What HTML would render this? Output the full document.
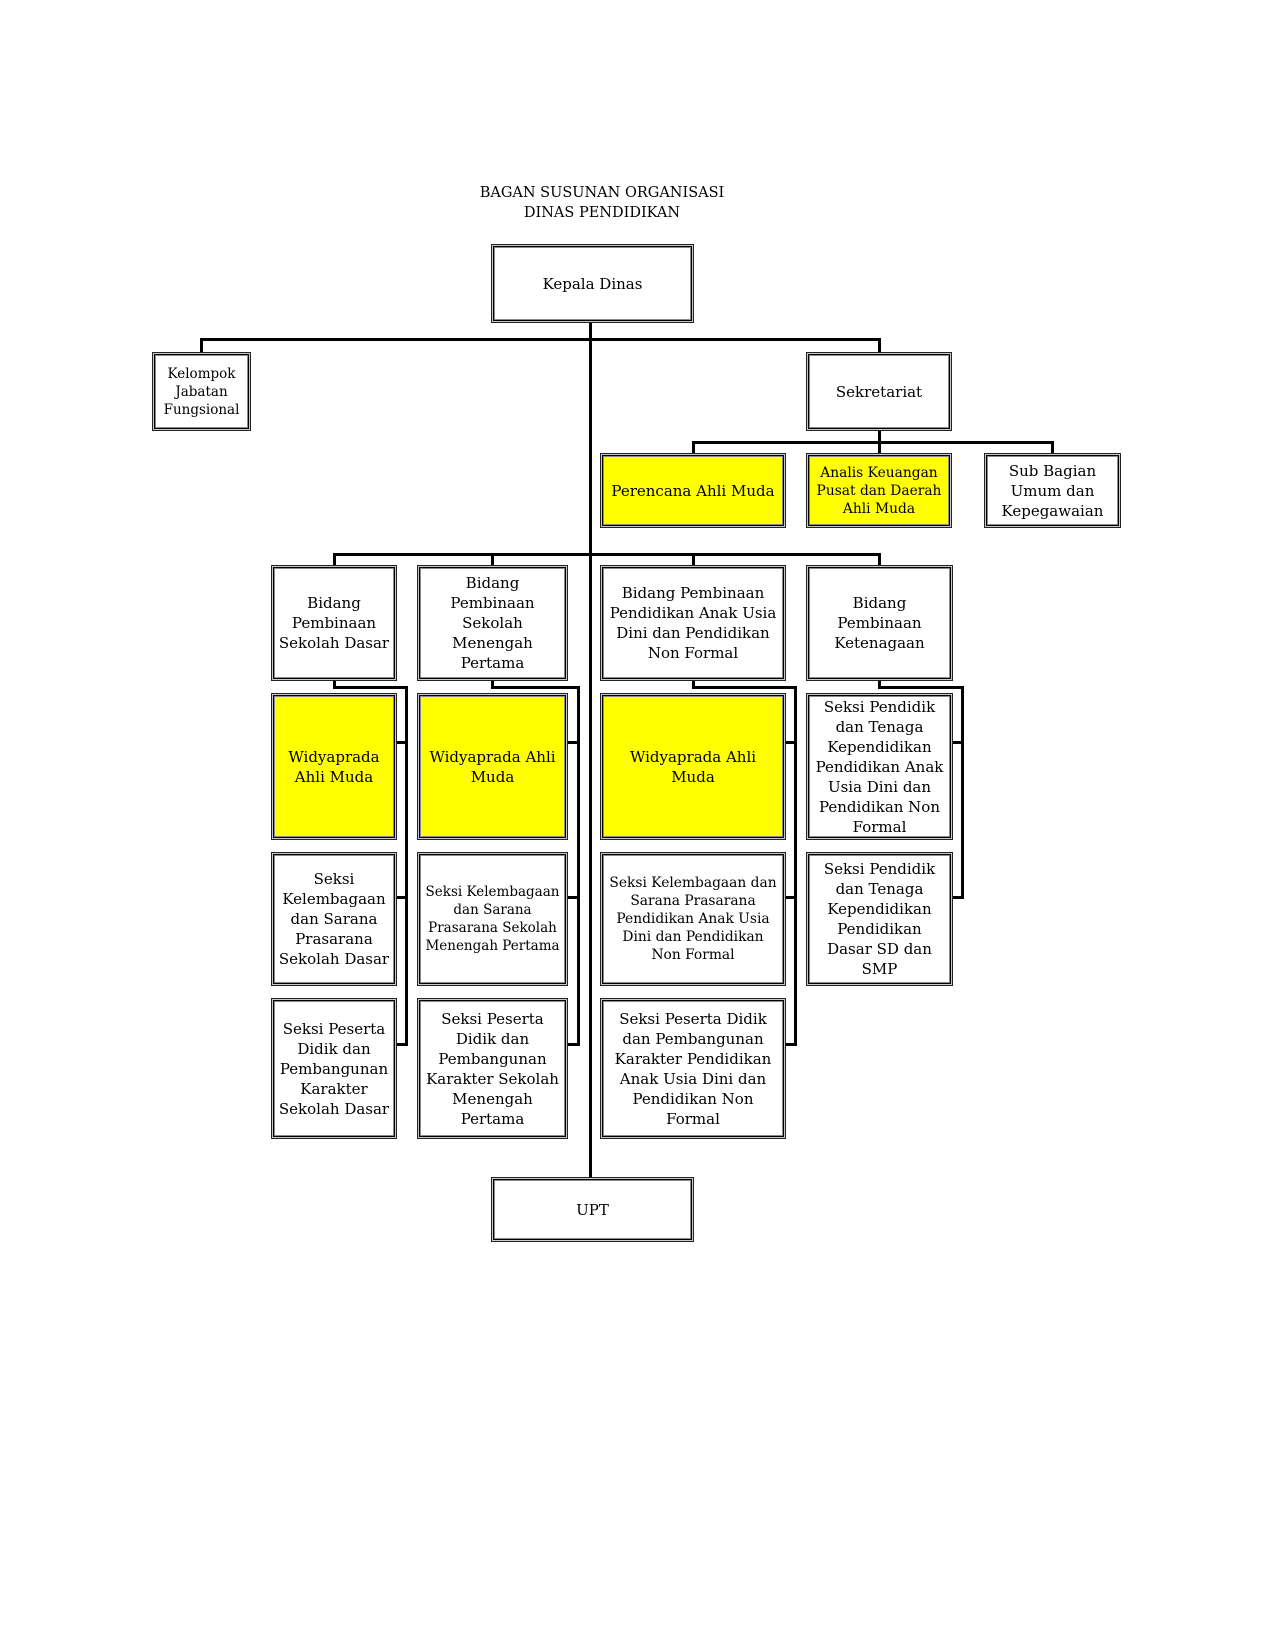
<!DOCTYPE html>
<html>
<head>
<meta charset="utf-8">
<style>
  html, body { margin:0; padding:0; }
  body { width:1275px; height:1650px; position:relative; background:#fff; overflow:hidden; }
  .b {
    position:absolute; box-sizing:border-box;
    border:1px solid #222;
    box-shadow: inset 0 0 0 1px #c8c8c8, inset 0 0 0 2px #000, inset 0 0 0 3px #8a8a8a;
    display:flex; align-items:center; justify-content:center; text-align:center;
    font-family:"DejaVu Serif","Liberation Serif",serif;
    font-size:15px; line-height:20px; color:#000; background:#fff;
    white-space:nowrap;
  }
  .y { background:#ffff00; }
  .s { font-size:13.8px; line-height:18px; }
  .l { position:absolute; background:#000; }
  .title {
    position:absolute; left:402px; top:183px; width:400px; text-align:center;
    font-family:"DejaVu Serif","Liberation Serif",serif; font-size:14.5px; line-height:20px; color:#000;
  }
</style>
</head>
<body>

<div class="title">BAGAN SUSUNAN ORGANISASI<br>DINAS PENDIDIKAN</div>

<!-- connectors -->
<div class="l" style="left:589px;top:323px;width:3px;height:854px;"></div>
<div class="l" style="left:200px;top:338px;width:681px;height:3px;"></div>
<div class="l" style="left:200px;top:338px;width:3px;height:14px;"></div>
<div class="l" style="left:878px;top:338px;width:3px;height:14px;"></div>

<div class="l" style="left:878px;top:431px;width:3px;height:22px;"></div>
<div class="l" style="left:692px;top:441px;width:362px;height:3px;"></div>
<div class="l" style="left:692px;top:441px;width:3px;height:12px;"></div>
<div class="l" style="left:1051px;top:441px;width:3px;height:12px;"></div>

<div class="l" style="left:333px;top:553px;width:548px;height:3px;"></div>
<div class="l" style="left:333px;top:553px;width:3px;height:12px;"></div>
<div class="l" style="left:491px;top:553px;width:3px;height:12px;"></div>
<div class="l" style="left:692px;top:553px;width:3px;height:12px;"></div>
<div class="l" style="left:878px;top:553px;width:3px;height:12px;"></div>

<!-- SD column connector -->
<div class="l" style="left:333px;top:681px;width:3px;height:7px;"></div>
<div class="l" style="left:333px;top:686px;width:75px;height:3px;"></div>
<div class="l" style="left:405px;top:686px;width:3px;height:360px;"></div>
<div class="l" style="left:397px;top:741px;width:11px;height:3px;"></div>
<div class="l" style="left:397px;top:896px;width:11px;height:3px;"></div>
<div class="l" style="left:397px;top:1043px;width:11px;height:3px;"></div>

<!-- SMP column connector -->
<div class="l" style="left:491px;top:681px;width:3px;height:7px;"></div>
<div class="l" style="left:491px;top:686px;width:89px;height:3px;"></div>
<div class="l" style="left:577px;top:686px;width:3px;height:360px;"></div>
<div class="l" style="left:568px;top:741px;width:12px;height:3px;"></div>
<div class="l" style="left:568px;top:896px;width:12px;height:3px;"></div>
<div class="l" style="left:568px;top:1043px;width:12px;height:3px;"></div>

<!-- PAUD column connector -->
<div class="l" style="left:692px;top:681px;width:3px;height:7px;"></div>
<div class="l" style="left:692px;top:686px;width:105px;height:3px;"></div>
<div class="l" style="left:794px;top:686px;width:3px;height:360px;"></div>
<div class="l" style="left:786px;top:741px;width:11px;height:3px;"></div>
<div class="l" style="left:786px;top:896px;width:11px;height:3px;"></div>
<div class="l" style="left:786px;top:1043px;width:11px;height:3px;"></div>

<!-- Ketenagaan column connector -->
<div class="l" style="left:878px;top:681px;width:3px;height:7px;"></div>
<div class="l" style="left:878px;top:686px;width:86px;height:3px;"></div>
<div class="l" style="left:961px;top:686px;width:3px;height:213px;"></div>
<div class="l" style="left:953px;top:741px;width:11px;height:3px;"></div>
<div class="l" style="left:953px;top:896px;width:11px;height:3px;"></div>

<!-- boxes -->
<div class="b" style="left:491px;top:244px;width:203px;height:79px;">Kepala Dinas</div>
<div class="b s" style="left:152px;top:352px;width:99px;height:79px;font-size:13.5px;">Kelompok<br>Jabatan<br>Fungsional</div>
<div class="b" style="left:806px;top:352px;width:146px;height:79px;">Sekretariat</div>

<div class="b y" style="left:600px;top:453px;width:186px;height:75px;">Perencana Ahli Muda</div>
<div class="b y s" style="left:806px;top:453px;width:146px;height:75px;font-size:13.8px;">Analis Keuangan<br>Pusat dan Daerah<br>Ahli Muda</div>
<div class="b" style="left:984px;top:453px;width:137px;height:75px;">Sub Bagian<br>Umum dan<br>Kepegawaian</div>

<div class="b" style="left:271px;top:565px;width:126px;height:116px;">Bidang<br>Pembinaan<br>Sekolah Dasar</div>
<div class="b" style="left:417px;top:565px;width:151px;height:116px;">Bidang<br>Pembinaan<br>Sekolah<br>Menengah<br>Pertama</div>
<div class="b" style="left:600px;top:565px;width:186px;height:116px;">Bidang Pembinaan<br>Pendidikan Anak Usia<br>Dini dan Pendidikan<br>Non Formal</div>
<div class="b" style="left:806px;top:565px;width:147px;height:116px;">Bidang<br>Pembinaan<br>Ketenagaan</div>

<div class="b y" style="left:271px;top:693px;width:126px;height:147px;">Widyaprada<br>Ahli Muda</div>
<div class="b y" style="left:417px;top:693px;width:151px;height:147px;">Widyaprada Ahli<br>Muda</div>
<div class="b y" style="left:600px;top:693px;width:186px;height:147px;">Widyaprada Ahli<br>Muda</div>
<div class="b" style="left:806px;top:693px;width:147px;height:147px;">Seksi Pendidik<br>dan Tenaga<br>Kependidikan<br>Pendidikan Anak<br>Usia Dini dan<br>Pendidikan Non<br>Formal</div>

<div class="b" style="left:271px;top:852px;width:126px;height:134px;">Seksi<br>Kelembagaan<br>dan Sarana<br>Prasarana<br>Sekolah Dasar</div>
<div class="b s" style="left:417px;top:852px;width:151px;height:134px;font-size:13.5px;">Seksi Kelembagaan<br>dan Sarana<br>Prasarana Sekolah<br>Menengah Pertama</div>
<div class="b s" style="left:600px;top:852px;width:186px;height:134px;">Seksi Kelembagaan dan<br>Sarana Prasarana<br>Pendidikan Anak Usia<br>Dini dan Pendidikan<br>Non Formal</div>
<div class="b" style="left:806px;top:852px;width:147px;height:134px;">Seksi Pendidik<br>dan Tenaga<br>Kependidikan<br>Pendidikan<br>Dasar SD dan<br>SMP</div>

<div class="b" style="left:271px;top:998px;width:126px;height:141px;">Seksi Peserta<br>Didik dan<br>Pembangunan<br>Karakter<br>Sekolah Dasar</div>
<div class="b" style="left:417px;top:998px;width:151px;height:141px;">Seksi Peserta<br>Didik dan<br>Pembangunan<br>Karakter Sekolah<br>Menengah<br>Pertama</div>
<div class="b" style="left:600px;top:998px;width:186px;height:141px;">Seksi Peserta Didik<br>dan Pembangunan<br>Karakter Pendidikan<br>Anak Usia Dini dan<br>Pendidikan Non<br>Formal</div>

<div class="b" style="left:491px;top:1177px;width:203px;height:65px;">UPT</div>

</body>
</html>
